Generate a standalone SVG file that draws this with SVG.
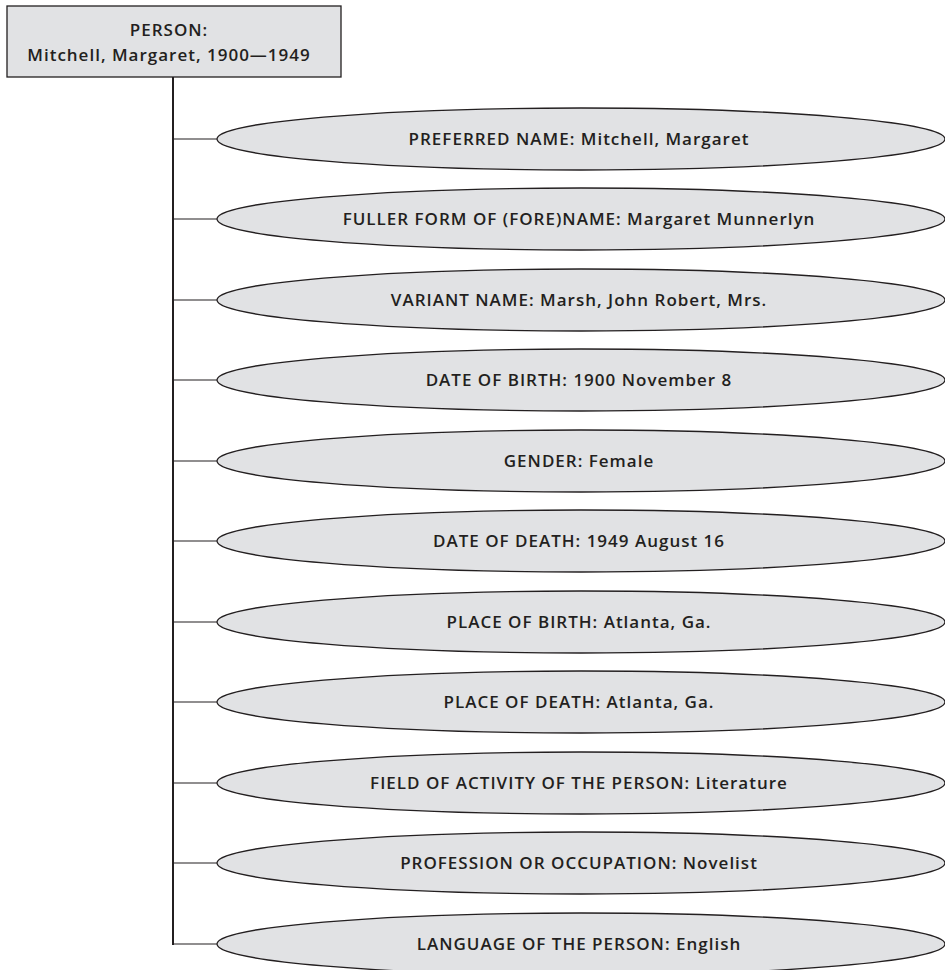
<svg xmlns="http://www.w3.org/2000/svg" width="945" height="970" viewBox="0 0 945 970">
<style>
.n{fill:#e1e2e4;stroke:#231f20;stroke-width:1.3}
.t{font-family:"Open Sans","Liberation Sans",sans-serif;font-size:17px;font-weight:600;letter-spacing:1px;fill:#231f20;text-anchor:middle}
.c{stroke:#231f20;fill:none}
</style>
<rect width="945" height="970" fill="#fff"/>
<g id="connectors">
<line class="c" x1="173" y1="77" x2="173" y2="945" stroke-width="2"/>
<g stroke-width="1.2">
<line class="c" x1="173" y1="139" x2="217" y2="139"/>
<line class="c" x1="173" y1="219" x2="217" y2="219"/>
<line class="c" x1="173" y1="300" x2="217" y2="300"/>
<line class="c" x1="173" y1="380" x2="217" y2="380"/>
<line class="c" x1="173" y1="461" x2="217" y2="461"/>
<line class="c" x1="173" y1="541" x2="217" y2="541"/>
<line class="c" x1="173" y1="622" x2="217" y2="622"/>
<line class="c" x1="173" y1="702" x2="217" y2="702"/>
<line class="c" x1="173" y1="783" x2="217" y2="783"/>
<line class="c" x1="173" y1="863" x2="217" y2="863"/>
<line class="c" x1="173" y1="944" x2="217" y2="944"/>
</g>
</g>
<g id="person">
<rect class="n" x="7" y="6" width="334" height="71"/>
<text class="t" x="169" y="36">PERSON:</text>
<text class="t" x="169" y="61">Mitchell, Margaret, 1900—1949</text>
</g>
<g id="e1"><ellipse class="n" cx="581" cy="139" rx="364" ry="31"/><text class="t" x="579" y="145">PREFERRED NAME: Mitchell, Margaret</text></g>
<g id="e2"><ellipse class="n" cx="581" cy="219" rx="364" ry="31"/><text class="t" x="579" y="225">FULLER FORM OF (FORE)NAME: Margaret Munnerlyn</text></g>
<g id="e3"><ellipse class="n" cx="581" cy="300" rx="364" ry="31"/><text class="t" x="579" y="306">VARIANT NAME: Marsh, John Robert, Mrs.</text></g>
<g id="e4"><ellipse class="n" cx="581" cy="380" rx="364" ry="31"/><text class="t" x="579" y="386">DATE OF BIRTH: 1900 November 8</text></g>
<g id="e5"><ellipse class="n" cx="581" cy="461" rx="364" ry="31"/><text class="t" x="579" y="467">GENDER: Female</text></g>
<g id="e6"><ellipse class="n" cx="581" cy="541" rx="364" ry="31"/><text class="t" x="579" y="547">DATE OF DEATH: 1949 August 16</text></g>
<g id="e7"><ellipse class="n" cx="581" cy="622" rx="364" ry="31"/><text class="t" x="579" y="628">PLACE OF BIRTH: Atlanta, Ga.</text></g>
<g id="e8"><ellipse class="n" cx="581" cy="702" rx="364" ry="31"/><text class="t" x="579" y="708">PLACE OF DEATH: Atlanta, Ga.</text></g>
<g id="e9"><ellipse class="n" cx="581" cy="783" rx="364" ry="31"/><text class="t" x="579" y="789">FIELD OF ACTIVITY OF THE PERSON: Literature</text></g>
<g id="e10"><ellipse class="n" cx="581" cy="863" rx="364" ry="31"/><text class="t" x="579" y="869">PROFESSION OR OCCUPATION: Novelist</text></g>
<g id="e11"><ellipse class="n" cx="581" cy="944" rx="364" ry="31"/><text class="t" x="579" y="950">LANGUAGE OF THE PERSON: English</text></g>
</svg>
